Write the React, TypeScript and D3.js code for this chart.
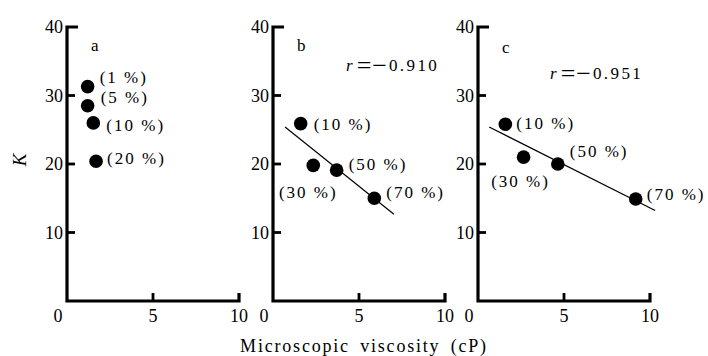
import React from "react";
import * as d3 from "d3";

// panel a
const aVisc = [1.2, 1.2, 1.53, 1.69];
const aK = [31.3, 28.5, 26.0, 20.4];
const aLabels = ["(1 %)", "(5 %)", "(10 %)", "(20 %)"];

// panel b
const bVisc = [1.61, 2.34, 3.7, 5.89];
const bK = [25.9, 19.8, 19.1, 15.0];
const bLabels = ["(10 %)", "(30 %)", "(50 %)", "(70 %)"];
const bFitX = [0.7, 7.03];
const bFitK = [25.4, 12.66];

// panel c
const cVisc = [1.59, 2.65, 4.64, 9.17];
const cK = [25.8, 21.0, 20.0, 14.9];
const cLabels = ["(10 %)", "(30 %)", "(50 %)", "(70 %)"];
const cFitX = [0.65, 10.3];
const cFitK = [25.4, 13.2];

const yTicks = [10, 20, 30, 40];
const xTicks = [0, 5, 10];

const FONT = "'Liberation Serif', 'DejaVu Serif', serif";

type LabelPos = { dx: number; dy: number; anchor: string };

interface PanelProps {
  left: number;
  letter: string;
  visc: number[];
  k: number[];
  labels: string[];
  labelPos: LabelPos[];
  fitX?: number[];
  fitK?: number[];
  r?: string;
  rPos?: [number, number];
  letterY: number;
}

const W = 172;
const Y0 = 301;
const Y40 = 27;

function Panel(p: PanelProps) {
  const x = d3.scaleLinear().domain([0, 10]).range([p.left, p.left + W]);
  const y = d3.scaleLinear().domain([0, 40]).range([Y0, Y40]);
  const line = d3
    .line<number>()
    .x((d) => x(d))
    .y((_, i) => y(p.fitK ? p.fitK[i] : 0));

  return (
    <g fontFamily={FONT}>
      {/* axes */}
      <path
        d={`M${x(0) + 11},${y(40)}H${x(0)}V${y(0)}H${x(10)}V${y(0) - 8}`}
        fill="none"
        stroke="#000"
        strokeWidth={3.2}
      />
      {yTicks.slice(0, 3).map((t) => (
        <line key={t} x1={x(0)} x2={x(0) + 8} y1={y(t)} y2={y(t)} stroke="#000" strokeWidth={2.8} />
      ))}
      <line x1={x(5)} x2={x(5)} y1={y(0)} y2={y(0) - 8} stroke="#000" strokeWidth={2.8} />
      {yTicks.map((t) => (
        <text key={t} x={x(0) - 4} y={y(t)} dy="0.35em" textAnchor="end" fontSize={18}>
          {t}
        </text>
      ))}
      {xTicks.map((t) => (
        <text
          key={t}
          x={t === 0 ? x(0) - 9 : x(t)}
          y={316}
          dy="0.35em"
          textAnchor="middle"
          fontSize={18}
        >
          {t}
        </text>
      ))}
      <text x={x(0) + 24} y={p.letterY} dy="0.35em" fontSize={17}>
        {p.letter}
      </text>
      {p.fitX && <path d={line(p.fitX) || ""} fill="none" stroke="#000" strokeWidth={1.2} />}
      {p.visc.map((v, i) => (
        <circle key={i} cx={x(v)} cy={y(p.k[i])} r={6.8} fill="#000" />
      ))}
      {p.labels.map((l, i) => (
        <text
          key={l}
          x={x(p.visc[i]) + p.labelPos[i].dx}
          y={y(p.k[i]) + p.labelPos[i].dy}
          dy="0.35em"
          textAnchor={p.labelPos[i].anchor}
          fontSize={17}
          letterSpacing={2}
        >
          {l}
        </text>
      ))}
      {p.r && p.rPos && (
        <text x={x(0) + p.rPos[0]} y={p.rPos[1]} dy="0.35em" fontSize={17}>
          <tspan fontStyle="italic">r</tspan>
          <tspan dx={4} dy={3.5} fontSize={26}>=</tspan>
          <tspan dx={1} fontSize={26}>−</tspan>
          <tspan dx={2} dy={-3.5} letterSpacing={2.4}>{p.r}</tspan>
        </text>
      )}
    </g>
  );
}

export default function App() {
  return (
    <svg width={708} height={356} style={{ display: "block", position: "absolute", left: 0, top: 0 }}>
      <rect width={708} height={356} fill="#fff" />
      <Panel
        left={67}
        letter="a"
        letterY={45}
        visc={aVisc}
        k={aK}
        labels={aLabels}
        labelPos={[
          { dx: 12, dy: -10, anchor: "start" },
          { dx: 13, dy: -9, anchor: "start" },
          { dx: 13, dy: 2, anchor: "start" },
          { dx: 11, dy: -3, anchor: "start" },
        ]}
      />
      <Panel
        left={273}
        letter="b"
        letterY={45}
        visc={bVisc}
        k={bK}
        labels={bLabels}
        labelPos={[
          { dx: 13, dy: 0, anchor: "start" },
          { dx: -5, dy: 27, anchor: "middle" },
          { dx: 12, dy: -6, anchor: "start" },
          { dx: 12, dy: -6, anchor: "start" },
        ]}
        fitX={bFitX}
        fitK={bFitK}
        r="0.910"
        rPos={[73, 65]}
      />
      <Panel
        left={478}
        letter="c"
        letterY={47}
        visc={cVisc}
        k={cK}
        labels={cLabels}
        labelPos={[
          { dx: 11, dy: -1, anchor: "start" },
          { dx: -3, dy: 24, anchor: "middle" },
          { dx: 12, dy: -13, anchor: "start" },
          { dx: 11, dy: -5, anchor: "start" },
        ]}
        fitX={cFitX}
        fitK={cFitK}
        r="0.951"
        rPos={[72, 73]}
      />
      <text
        x={19}
        y={160}
        dy="0.35em"
        textAnchor="middle"
        transform="rotate(-90 19 160)"
        fontFamily={FONT}
        fontStyle="italic"
        fontSize={19}
      >
        K
      </text>
      <text
        x={364}
        y={346}
        dy="0.35em"
        textAnchor="middle"
        fontFamily={FONT}
        fontSize={18}
        letterSpacing={1.8}
        wordSpacing={4}
      >
        Microscopic viscosity (cP)
      </text>
    </svg>
  );
}
